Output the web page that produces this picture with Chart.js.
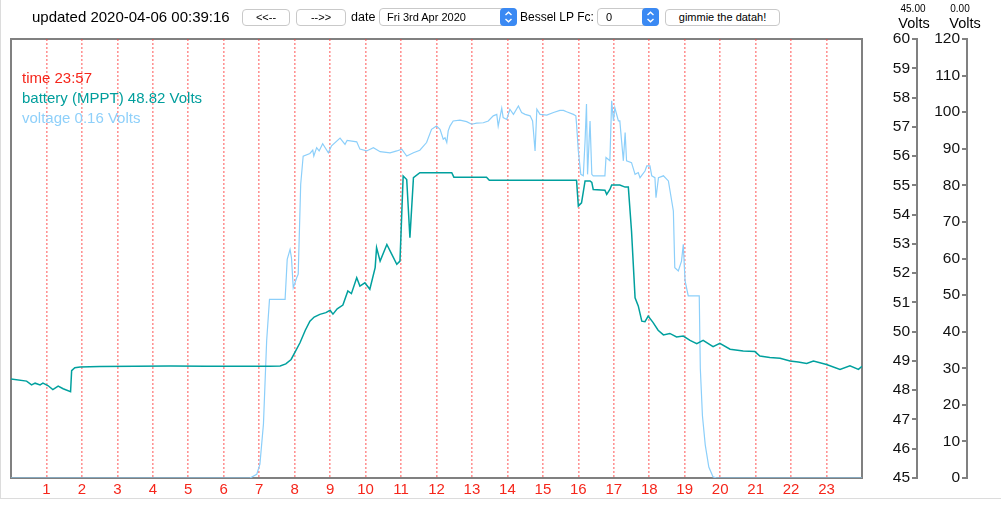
<!DOCTYPE html>
<html>
<head>
<meta charset="utf-8">
<script src="https://cdn.jsdelivr.net/npm/chart.js@4.4.0/dist/chart.umd.min.js"></script>
<style>
  body { margin: 0; background: #fff; font-family: "Liberation Sans", Arial, sans-serif; }
  #wrap { position: relative; width: 1001px; height: 505px; overflow: hidden; }
  #page { position: absolute; left: 0; top: -1px; width: 1001px; height: 500px; border-left: 1px solid #dcdcdc; border-bottom: 1px solid #dcdcdc; box-sizing: border-box; }
  canvas { position: absolute; left: 0; top: 0; }
  .t { position: absolute; white-space: nowrap; line-height: 18px; color: #000; }
  .btn { position: absolute; top: 9px; height: 17px; border: 1px solid #c9c9c9; border-radius: 4px; background: #fff;
         font-size: 11px; line-height: 15px; text-align: center; box-sizing: border-box; }
  .sel { position: absolute; top: 8px; height: 18px; border: 1px solid #c9c9c9; border-radius: 4px; background: #fff;
         font-size: 11px; line-height: 16px; box-sizing: border-box; }
  .sel span { position: absolute; top: 0; }
  .step { position: absolute; right: -1px; top: -1px; width: 17px; height: 18px; background: #3a89f3; border-radius: 4px; }
  .lg { position: absolute; left: 22px; font-size: 15px; line-height: 18px; white-space: nowrap; }
</style>
</head>
<body>
<div id="wrap">
  <div id="page"></div>
  <canvas id="chart" width="1001" height="505"></canvas>

  <div class="t" style="left:32px;top:8px;font-size:15px;">updated 2020-04-06 00:39:16</div>
  <div class="btn" style="left:242px;width:48px;">&lt;&lt;--</div>
  <div class="btn" style="left:296px;width:50px;">--&gt;&gt;</div>
  <div class="t" style="left:351px;top:8px;font-size:12.5px;">date</div>
  <div class="sel" style="left:379px;width:138px;"><span style="left:7px;">Fri 3rd Apr 2020</span>
    <div class="step"><svg width="17" height="18"><path d="M5.5 7 L8.5 4.2 L11.5 7 M5.5 11 L8.5 13.8 L11.5 11" stroke="#fff" stroke-width="1.4" fill="none"/></svg></div></div>
  <div class="t" style="left:520px;top:8px;font-size:12px;">Bessel LP Fc:</div>
  <div class="sel" style="left:597px;width:62px;"><span style="left:8px;">0</span>
    <div class="step"><svg width="17" height="18"><path d="M5.5 7 L8.5 4.2 L11.5 7 M5.5 11 L8.5 13.8 L11.5 11" stroke="#fff" stroke-width="1.4" fill="none"/></svg></div></div>
  <div class="btn" style="left:665px;width:115px;">gimmie the datah!</div>

  <div class="t" style="left:893px;top:0px;width:40px;text-align:center;font-size:10px;">45.00</div>
  <div class="t" style="left:889px;top:14px;width:50px;text-align:center;font-size:14.5px;">Volts</div>
  <div class="t" style="left:940px;top:0px;width:40px;text-align:center;font-size:10px;">0.00</div>
  <div class="t" style="left:940px;top:14px;width:50px;text-align:center;font-size:14.5px;">Volts</div>

  <div class="lg" style="top:69px;color:#f5261b;">time 23:57</div>
  <div class="lg" style="top:89px;color:#009e9c;">battery (MPPT) 48.82 Volts</div>
  <div class="lg" style="top:109px;color:#8fd0fa;">voltage 0.16 Volts</div>
</div>

<script>
// hour of day -> battery volts (left scale 45..60)
var batteryHours = [0, 0.44, 0.58, 0.68, 0.82, 0.9, 1.04, 1.18, 1.33, 1.47, 1.68, 1.71, 1.8, 1.95, 2.5, 3.5, 4.5, 5.5, 6.5, 7.3,
  7.59, 7.75, 7.9, 8.01, 8.15, 8.3, 8.43, 8.55, 8.71, 8.88, 9.0, 9.08, 9.2, 9.36, 9.5, 9.6, 9.75, 9.84, 9.98, 10.12,
  10.27, 10.31, 10.41, 10.6, 10.74, 10.88, 10.97, 11.06, 11.16, 11.25, 11.35, 11.53, 12.43, 12.49, 13.41, 13.49, 15.95, 16.0, 16.09, 16.19,
  16.33, 16.38, 16.42, 16.75, 16.8, 16.89, 16.94, 17.17, 17.32, 17.41, 17.5, 17.6, 17.69, 17.79, 17.88, 17.97, 18.11, 18.25, 18.4, 18.58,
  18.77, 18.96, 19.15, 19.34, 19.52, 19.8, 19.99, 20.28, 20.65, 20.98, 21.12, 21.4, 21.69, 21.97, 22.2, 22.44, 22.63, 23.0, 23.38, 23.66,
  23.9, 24.0];
var batteryVolts = [48.38, 48.31, 48.18, 48.24, 48.18, 48.24, 48.16, 48.02, 48.14, 48.05, 47.95, 48.67, 48.77, 48.79, 48.81, 48.82, 48.83, 48.82, 48.82, 48.82,
  48.83, 48.9, 49.05, 49.3, 49.62, 50.05, 50.36, 50.5, 50.59, 50.65, 50.73, 50.6, 50.78, 50.91, 51.39, 51.3, 51.84, 51.56, 51.67, 51.45,
  52.19, 52.87, 52.41, 52.98, 52.64, 52.3, 52.41, 55.32, 55.2, 53.21, 55.26, 55.43, 55.43, 55.28, 55.28, 55.17, 55.17, 54.29, 54.4, 55.15,
  55.15, 55.1, 54.86, 54.83, 54.69, 54.86, 55.01, 55.01, 54.94, 54.94, 53.44, 51.16, 50.88, 50.36, 50.34, 50.53, 50.31, 50.05, 49.89, 49.94,
  49.82, 49.85, 49.7, 49.59, 49.7, 49.49, 49.6, 49.4, 49.34, 49.32, 49.17, 49.12, 49.09, 49.0, 48.96, 48.91, 49.0, 48.88, 48.71, 48.83,
  48.71, 48.82];

// hour of day -> panel voltage (right scale 0..120)
var voltageHours = [0, 6.74, 6.93, 7.02, 7.12, 7.21, 7.29, 7.73, 7.79, 7.87, 7.91, 7.96, 8.06, 8.1, 8.17, 8.24, 8.43, 8.51, 8.54, 8.62,
  8.69, 8.79, 8.95, 9.04, 9.28, 9.42, 9.48, 9.75, 9.84, 10.03, 10.22, 10.41, 10.69, 10.88, 11.02, 11.16, 11.35, 11.53, 11.72, 11.86,
  12.0, 12.1, 12.19, 12.24, 12.29, 12.33, 12.38, 12.47, 12.66, 12.85, 12.99, 13.13, 13.32, 13.46, 13.6, 13.7, 13.74, 13.84, 13.88, 13.98,
  14.07, 14.17, 14.31, 14.4, 14.5, 14.64, 14.71, 14.78, 14.83, 14.92, 15.11, 15.3, 15.48, 15.58, 15.67, 15.86, 15.93, 15.95, 16.0, 16.07,
  16.14, 16.19, 16.23, 16.26, 16.33, 16.38, 16.42, 16.75, 16.78, 16.89, 16.94, 16.99, 17.03, 17.13, 17.17, 17.22, 17.27, 17.32, 17.36, 17.5,
  17.6, 17.69, 17.74, 17.88, 17.93, 18.02, 18.07, 18.16, 18.19, 18.26, 18.4, 18.54, 18.68, 18.72, 18.82, 18.91, 18.96, 19.01, 19.1, 19.41,
  19.44, 19.5, 19.58, 19.68, 19.8, 19.9, 24.0];
var voltageVolts = [0, 0, 1.0, 3.8, 14.8, 37.5, 48.8, 48.8, 59.8, 62.5, 60.2, 52.0, 54.8, 55.7, 80.3, 88.0, 88.7, 89.6, 88.0, 90.3,
  89.4, 91.4, 88.9, 90.8, 92.9, 91.2, 92.3, 91.9, 89.9, 89.4, 90.3, 89.2, 88.9, 89.4, 89.9, 88.0, 88.9, 89.6, 91.7, 95.3,
  96.2, 95.3, 92.6, 93.0, 91.7, 94.9, 96.2, 97.6, 97.8, 97.4, 96.7, 97.0, 97.1, 97.6, 99.0, 99.4, 96.2, 101.1, 98.5, 98.0,
  100.8, 99.4, 101.7, 99.9, 99.4, 99.0, 97.6, 89.4, 100.8, 99.4, 99.2, 99.9, 100.5, 100.5, 100.1, 99.4, 99.0, 96.7, 89.4, 83.0,
  82.6, 92.1, 102.2, 83.0, 97.6, 83.0, 82.6, 82.6, 87.6, 86.7, 103.1, 97.6, 101.2, 97.6, 97.6, 92.1, 86.7, 94.4, 86.7, 86.2,
  83.0, 83.5, 82.1, 83.9, 85.3, 85.3, 82.6, 82.1, 76.6, 82.1, 82.6, 81.2, 73.0, 57.5, 56.6, 59.3, 63.9, 53.9, 49.8, 49.8,
  30.0, 17.0, 9.0, 3.0, 0.3, 0, 0];

var hourMin = 0, hourMax = 24;
var batteryMin = 45, batteryMax = 60;
var voltageMin = 0, voltageMax = 120;

function points(xs, ys) {
  return xs.map(function(x, i) { return { x: x, y: ys[i] }; });
}

// grey box round the plot area
var plotFrame = {
  id: 'plotFrame',
  beforeDraw: function(chart) {
    var a = chart.chartArea, ctx = chart.ctx;
    ctx.save();
    ctx.strokeStyle = '#808080';
    ctx.lineWidth = 2;
    ctx.strokeRect(a.left, a.top, a.right - a.left, a.bottom - a.top);
    ctx.restore();
  }
};

Chart.defaults.font.family = '"Liberation Sans", Arial, sans-serif';
Chart.defaults.font.size = 15;

var axisGrey = '#808080';

new Chart(document.getElementById('chart').getContext('2d'), {
  type: 'line',
  data: {
    datasets: [{
      label: 'battery (MPPT)',
      data: points(batteryHours, batteryVolts),
      yAxisID: 'yBattery',
      borderColor: '#00a09e',
      borderWidth: 1.5,
      pointRadius: 0,
      tension: 0
    }, {
      label: 'voltage',
      data: points(voltageHours, voltageVolts),
      yAxisID: 'yVoltage',
      borderColor: '#8ccffa',
      borderWidth: 1.2,
      pointRadius: 0,
      tension: 0
    }]
  },
  options: {
    responsive: false,
    animation: false,
    layout: { padding: { top: 39, left: 11, right: 0, bottom: 0 } },
    plugins: { legend: { display: false }, tooltip: { enabled: false } },
    scales: {
      x: {
        type: 'linear',
        min: hourMin,
        max: hourMax,
        ticks: {
          stepSize: 1, autoSkip: false, maxRotation: 0, color: '#f5261b', padding: 3,
          callback: function(v) { return (v > hourMin && v < hourMax) ? String(v) : ''; }
        },
        grid: {
          drawTicks: false,
          lineWidth: 1.6,
          color: function(c) {
            var v = c.tick ? c.tick.value : 0;
            return (v > hourMin && v < hourMax) ? 'rgba(255,60,60,0.55)' : 'rgba(0,0,0,0)';
          }
        },
        border: { display: false, dash: [2, 2] },
        afterFit: function(s) { s.height = 27; }
      },
      gap: {
        position: 'right', weight: 0,
        grid: { display: false }, border: { display: false }, ticks: { display: false },
        afterFit: function(s) { s.width = 55; }
      },
      yBattery: {
        position: 'right', weight: 1,
        min: batteryMin, max: batteryMax,
        ticks: { stepSize: 1, mirror: true, padding: -7, color: '#111', font: { size: 15.5 } },
        grid: { drawOnChartArea: false, tickLength: -5, color: axisGrey, lineWidth: 2 },
        border: { color: axisGrey, width: 2 },
        afterFit: function(s) { s.width = 50; }
      },
      yVoltage: {
        position: 'right', weight: 2,
        min: voltageMin, max: voltageMax,
        ticks: { stepSize: 10, mirror: true, padding: -7, color: '#111', font: { size: 15.5 } },
        grid: { drawOnChartArea: false, tickLength: -5, color: axisGrey, lineWidth: 2 },
        border: { color: axisGrey, width: 2 },
        afterFit: function(s) { s.width = 34; }
      }
    }
  },
  plugins: [plotFrame]
});
</script>
</body>
</html>
